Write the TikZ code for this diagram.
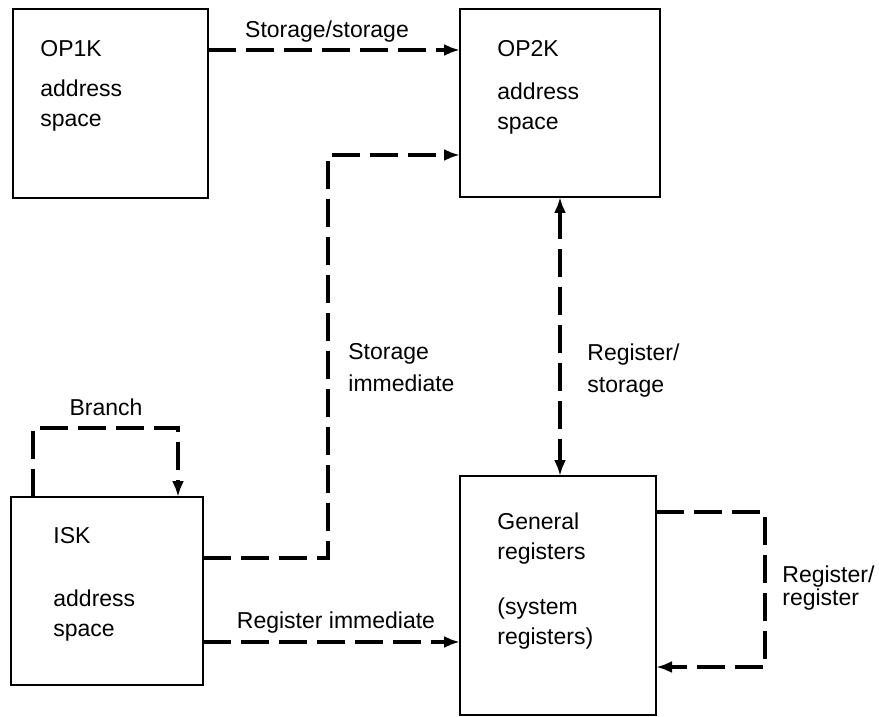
\documentclass[tikz,border=0pt]{standalone}
\usepackage{fontspec}
\setmainfont{Liberation Sans}
\usetikzlibrary{arrows.meta,positioning,calc}
\tikzset{
  box/.style={draw,line width=1pt,inner sep=0pt,outer sep=0pt},
  txt/.style={anchor=north west,inner sep=0pt,align=left,font=\fontsize{11.5}{15}\selectfont},
  lab/.style={inner sep=0pt,font=\fontsize{11.5}{15}\selectfont},
  arr/.style={-{Latex[length=8pt,width=6pt]},line width=2pt,dash pattern=on 14pt off 5pt},
  arrboth/.style={arr,{Latex[length=8pt,width=6pt]}-{Latex[length=8pt,width=6pt]}},
}
\begin{document}
\begin{tikzpicture}[x=0.5pt,y=-0.5pt]
  \useasboundingbox (0,0) rectangle (879,717);
  \node[box,minimum width=97.5pt,minimum height=94.5pt] (op1) at (110.5,103.5) {};
  \node[box,minimum width=100pt,minimum height=94pt] (op2) at (560,103) {};
  \node[box,minimum width=96pt,minimum height=94pt] (isk) at (107,591) {};
  \node[box,minimum width=98pt,minimum height=119.5pt] (gr) at (558,595.5) {};
  \node[txt] (op1t) at (40,40) {OP1K\\[5pt]address\\space};
  \node[txt] (op2t) at (497,40) {OP2K\\[6.5pt]address\\space};
  \node[txt] (iskt) at (53,527) {ISK\\[16.5pt]address\\space};
  \node[txt] (grt) at (497,512) {General\\registers\\[12.5pt](system\\registers)};
  \draw[arr] ([yshift=-20.5pt]op1.north east) -- ([yshift=-20.5pt]op2.north west);
  \draw[arr] ([yshift=-30.5pt]isk.north east) -- ++(125,0) |- ([yshift=-73pt]op2.north west);
  \draw[arrboth] (op2.south) -- (op2.south |- gr.north);
  \draw[arr] ([xshift=11pt]isk.north west) -- ++(0,-69) -| ([xshift=83.5pt]isk.north west);
  \draw[arr] ([yshift=-72.5pt]isk.north east) -- ([yshift=-83pt]gr.north west);
  \draw[arr] ([yshift=-18pt]gr.north east) -- ++(109,0) |- ([yshift=-95.5pt]gr.north east);
  \node[lab,anchor=base] (ss) at (327,38) {Storage/storage};
  \node[txt] (si) at (348,343) {Storage\\[1pt]immediate};
  \node[txt] (rs) at (587,343) {Register/\\[1pt]storage};
  \node[lab,anchor=base] (br) at (106,415) {Branch};
  \node[lab,anchor=base] (ri) at (336,628) {Register immediate};
  \node[txt,font=\fontsize{11.5}{11.5}\selectfont] (rr) at (782,565) {Register/\\register};
\end{tikzpicture}
\end{document}
